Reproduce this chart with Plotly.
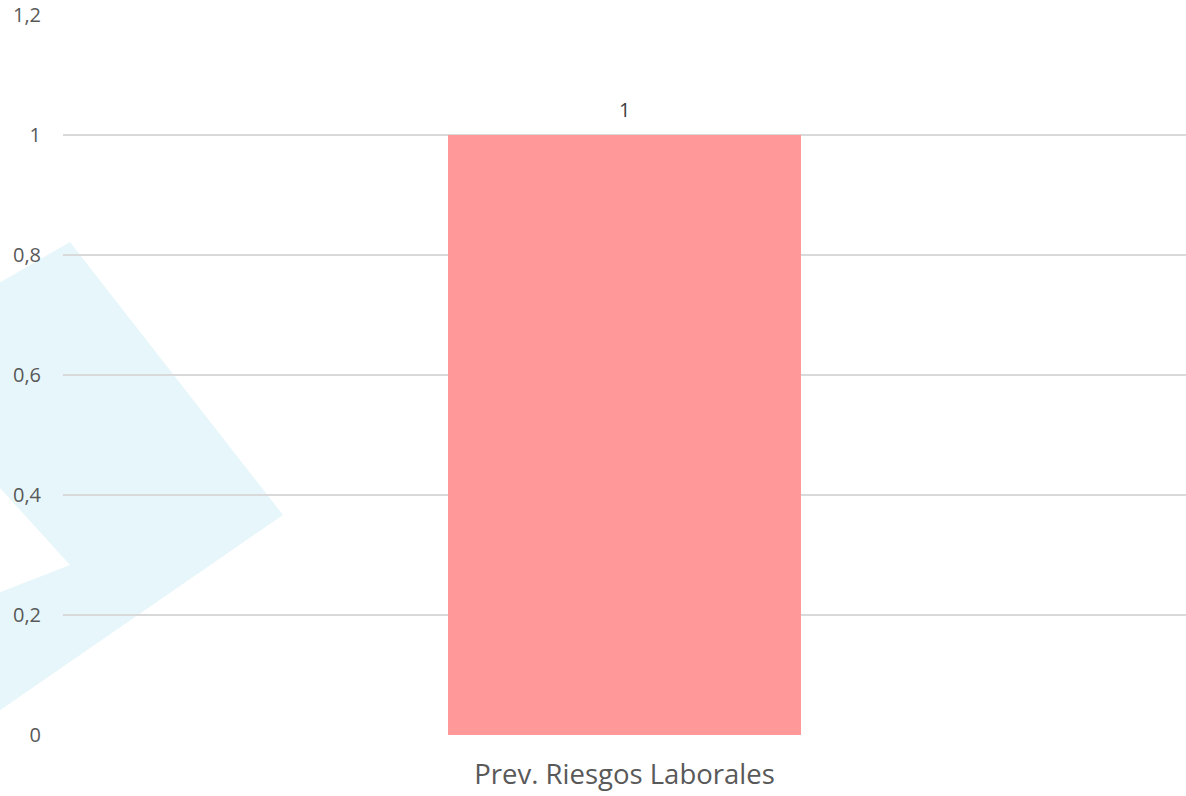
import plotly.graph_objects as go

# Chart data
categories = ["Prev. Riesgos Laborales"]
values = [1]
y_ticks = [0, 0.2, 0.4, 0.6, 0.8, 1, 1.2]
y_tick_labels = ["0", "0,2", "0,4", "0,6", "0,8", "1", "1,2"]

W, H = 1186, 796
ML, MR, MT, MB = 63, 0, 15, 61
PW, PH = W - ML - MR, H - MT - MB


def px_to_paper(px, py):
    return (px - ML) / PW, (H - MB - py) / PH


# Light background chevron decoration (pixel outline converted to paper space)
chevron_px = [(-20, 294), (70, 242), (283, 515), (-20, 724), (-20, 600),
              (70, 565), (-20, 466)]
pts = [px_to_paper(x, y) for x, y in chevron_px]
path = "M " + " L ".join(f"{x:.4f},{y:.4f}" for x, y in pts) + " Z"

FONT = "Open Sans, sans-serif"

fig = go.Figure()
fig.add_trace(go.Bar(
    x=categories,
    y=values,
    marker=dict(color="#FF9999", line=dict(width=0)),
    width=0.314,
    hoverinfo="skip",
))

for c, v in zip(categories, values):
    fig.add_annotation(
        x=c, y=v, text=str(v).replace(".", ","), showarrow=False,
        yanchor="bottom", yshift=10,
        font=dict(family=FONT, size=20, color="#404040"),
    )

fig.add_shape(
    type="path", path=path, xref="paper", yref="paper",
    fillcolor="#E7F6FA", line=dict(width=0), layer="below",
)

fig.update_layout(
    width=W, height=H,
    margin=dict(l=ML, r=MR, t=MT, b=MB),
    paper_bgcolor="white",
    plot_bgcolor="rgba(0,0,0,0)",
    separators=",.",
    showlegend=False,
    bargap=0,
    xaxis=dict(
        showgrid=False, zeroline=False, showline=False, ticks="",
        tickfont=dict(family=FONT, size=27.5, color="#595959"),
        ticklabelstandoff=20,
    ),
    yaxis=dict(
        range=[0, 1.2], tickvals=y_ticks, ticktext=y_tick_labels,
        showgrid=True, gridcolor="#D9D9D9", gridwidth=1.5,
        zeroline=False, showline=False, ticks="",
        tickfont=dict(family=FONT, size=20, color="#595959"),
        ticklabelstandoff=21,
    ),
)

fig.write_html("out.html")
